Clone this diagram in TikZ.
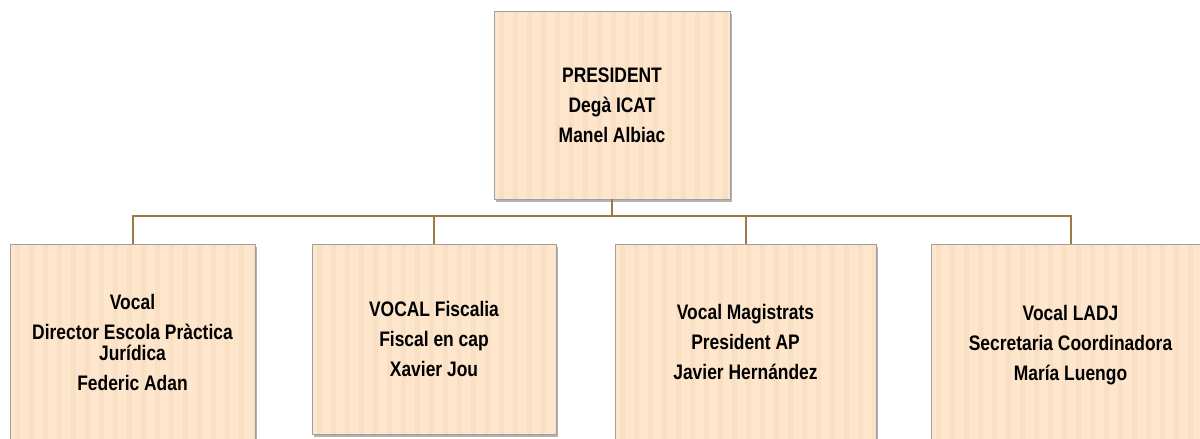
\documentclass[tikz,border=0pt]{standalone}
\usepackage{fontspec}
\setmainfont{Liberation Sans}[FakeStretch=0.83]
\usetikzlibrary{shadows}
\definecolor{boxfill}{HTML}{FDE6CC}
\definecolor{stripe}{HTML}{F9DFC3}
\definecolor{linebrown}{HTML}{9B7A44}
\tikzset{
  box/.style={draw=gray!75, thin, fill=boxfill, align=center,
    font=\bfseries\fontsize{21}{21}\selectfont,
    drop shadow={shadow xshift=2pt, shadow yshift=-3pt, fill=black!60, opacity=0.5},
    path picture={\foreach \k in {0,...,20}
      \fill[stripe] ([xshift=\k*14pt+5pt]path picture bounding box.north west) rectangle ++(5pt,-220pt);}},
  link/.style={draw=linebrown, line width=2pt}
}
\begin{document}
\begin{tikzpicture}[x=1pt,y=-1pt]
\clip (0,0) rectangle (1200,439);
% president
\node[box, minimum width=236pt, minimum height=188pt] (pres) at (612,105)
  {PRESIDENT\\[9pt]Degà ICAT\\[9pt]Manel Albiac};
% vocals
\node[box, minimum width=245pt, minimum height=196pt] (vadan) at (132.5,342)
  {Vocal\\[9pt]Director Escola Pràctica\\Jurídica\\[9pt]Federic Adan};
\node[box, minimum width=244pt, minimum height=190pt] (vjou) at (434,339)
  {VOCAL Fiscalia\\[9pt]Fiscal en cap\\[9pt]Xavier Jou};
\node[box, minimum width=261pt, minimum height=196pt] (vhern) at (745.5,342)
  {Vocal Magistrats\\[9pt]President AP\\[9pt]Javier Hernández};
\node[box, minimum width=279pt, minimum height=202pt] (vluen) at (1070.5,345)
  {Vocal LADJ\\[9pt]Secretaria Coordinadora\\[9pt]María Luengo};
% connectors
\draw[link] (pres.south) -- ++(0,17) -| (vadan.north);
\draw[link] (pres.south) -- ++(0,17) -| (vluen.north);
\draw[link] (vjou.north) -- ++(0,-28);
\draw[link] (vhern.north) -- ++(0,-28);
\end{tikzpicture}
\end{document}
